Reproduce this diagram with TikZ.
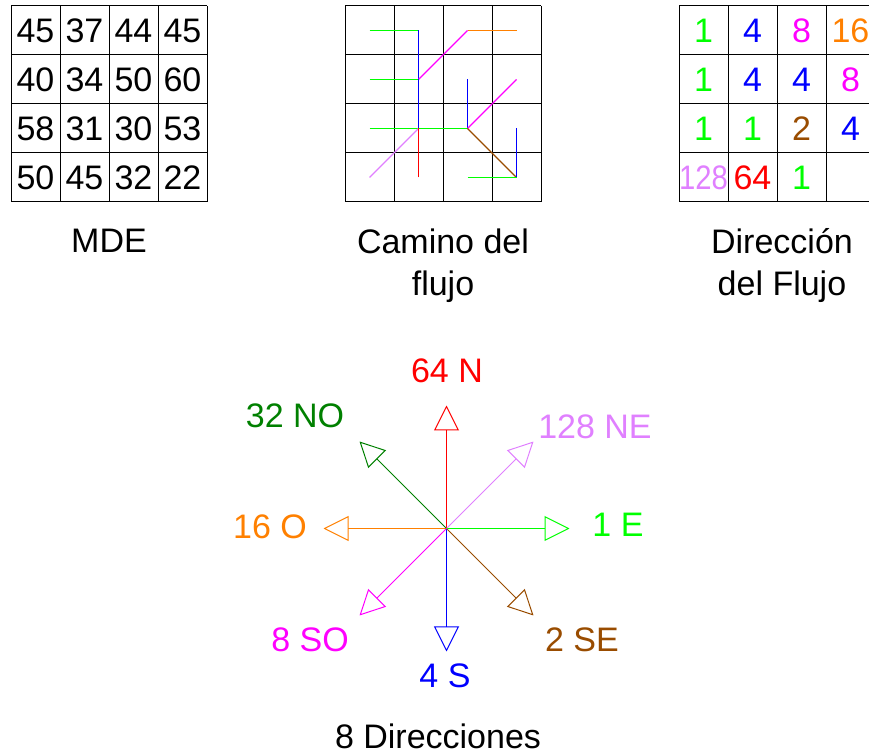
\documentclass[tikz,border=0pt]{standalone}
\usepackage{fontspec}
\setmainfont{Liberation Sans}
\usetikzlibrary{arrows.meta}

\definecolor{verde}{RGB}{0,255,0}
\definecolor{verdeos}{RGB}{0,128,0}
\definecolor{naranja}{RGB}{255,128,0}
\definecolor{cafe}{RGB}{153,76,0}
\definecolor{lila}{RGB}{224,128,255}
\definecolor{rosa}{RGB}{255,0,255}
\definecolor{azul}{RGB}{0,0,255}
\definecolor{rojo}{RGB}{255,0,0}

\begin{document}
\begin{tikzpicture}[x=0.5pt,y=-0.5pt,
  every node/.style={font=\fontsize{17pt}{21pt}\selectfont},
  num/.style={inner sep=0pt},
  lbl/.style={inner sep=0pt,anchor=base,align=center},
  rejilla/.style={line width=0.5pt},
  flow/.style={line width=0.6pt},
  dir/.style={line width=0.5pt,-{Triangle[open,length=12.5pt,width=12.5pt]}}]

\useasboundingbox (0,0) rectangle (869,754);
\clip (0,0) rectangle (869,754);

% tamano de celda
\def\s{49}

% --- MDE ---
\begin{scope}[shift={(11,6)}]
\foreach \i in {0,...,4} {
  \draw[rejilla] (\i*\s,0) -- (\i*\s,4*\s);
  \draw[rejilla] (0,\i*\s) -- (4*\s,\i*\s);
}

\foreach \r/\a/\b/\c/\d in {0/45/37/44/45,1/40/34/50/60,2/58/31/30/53,3/50/45/32/22} {
  \node[num] (m\r0) at (0.5*\s,\r*\s+0.5*\s) {\a};
  \node[num] (m\r1) at (1.5*\s,\r*\s+0.5*\s) {\b};
  \node[num] (m\r2) at (2.5*\s,\r*\s+0.5*\s) {\c};
  \node[num] (m\r3) at (3.5*\s,\r*\s+0.5*\s) {\d};
}

\node[lbl] (mde) at (2*\s,247) {MDE};
\end{scope}

% --- camino del flujo ---
\begin{scope}[shift={(345,6)}]
\foreach \i in {0,...,4} {
  \draw[rejilla] (\i*\s,0) -- (\i*\s,4*\s);
  \draw[rejilla] (0,\i*\s) -- (4*\s,\i*\s);
}

\foreach \r in {0,...,3}
  \foreach \c in {0,...,3}
    \coordinate (f\r\c) at (\c*\s+0.5*\s,\r*\s+0.5*\s);

\draw[flow,verde] (f00) -- (f01);
\draw[flow,azul] (f01) -- (f11);
\draw[flow,rosa] (f02) -- (f11);
\draw[flow,naranja] (f03) -- (f02);

\draw[flow,verde] (f10) -- (f11);
\draw[flow,azul] (f11) -- (f21);
\draw[flow,azul] (f12) -- (f22);
\draw[flow,rosa] (f13) -- (f22);

\draw[flow,verde] (f20) -- (f21);
\draw[flow,verde] (f21) -- (f22);
\draw[flow,cafe] (f22) -- (f33);
\draw[flow,azul] (f23) -- (f33);

\draw[flow,lila] (f30) -- (f21);
\draw[flow,rojo] (f31) -- (f21);
\draw[flow,verde] (f32) -- (f33);

\node[lbl] (camino) at (2*\s,290) {Camino del\\flujo};
\end{scope}

% --- direccion del flujo ---
\begin{scope}[shift={(679,6)}]
\foreach \i in {0,...,4} {
  \draw[rejilla] (\i*\s,0) -- (\i*\s,4*\s);
  \draw[rejilla] (0,\i*\s) -- (4*\s,\i*\s);
}

\foreach \r/\c/\v/\col in {0/0/1/verde,0/1/4/azul,0/2/8/rosa,0/3/16/naranja,
                          1/0/1/verde,1/1/4/azul,1/2/4/azul,1/3/8/rosa,
                          2/0/1/verde,2/1/1/verde,2/2/2/cafe,2/3/4/azul,
                          3/1/64/rojo,3/2/1/verde}
  \node[num,text=\col] (d\r\c) at (\c*\s+0.5*\s,\r*\s+0.5*\s) {\v};

\node[num,text=lila] (d30) at (0.5*\s,3.5*\s) {\scalebox{0.86}[1]{128}};

\node[lbl] (direccion) at (103,290) {Dirección\\del Flujo};
\end{scope}

% --- 8 direcciones ---
\coordinate (o) at (446.5,528.5);
\coordinate (pE) at (569.5,528.5);
\coordinate (pSE) at (533.5,615.5);
\coordinate (pS) at (446.5,651.5);
\coordinate (pSO) at (359.5,615.5);
\coordinate (pO) at (323.5,528.5);
\coordinate (pNO) at (359.5,441.5);
\coordinate (pN) at (446.5,405.5);
\coordinate (pNE) at (533.5,441.5);

\draw[dir,verde] (o) -- (pE);
\draw[dir,cafe] (o) -- (pSE);
\draw[dir,azul] (o) -- (pS);
\draw[dir,rosa] (o) -- (pSO);
\draw[dir,naranja] (o) -- (pO);
\draw[dir,verdeos] (o) -- (pNO);
\draw[dir,rojo] (o) -- (pN);
\draw[dir,lila] (o) -- (pNE);

\node[lbl,text=verde] (lE) at (618,537) {1 E};
\node[lbl,text=cafe] (lSE) at (582,652) {2 SE};
\node[lbl,text=azul] (lS) at (445,688) {4 S};
\node[lbl,text=rosa] (lSO) at (310,652) {8 SO};
\node[lbl,text=naranja] (lO) at (270,539) {16 O};
\node[lbl,text=verdeos] (lNO) at (295,428) {32 NO};
\node[lbl,text=rojo] (lN) at (447,383) {64 N};
\node[lbl,text=lila] (lNE) at (595,439) {128 NE};

\node[lbl] (ocho) at (438,748) {8 Direcciones};

\end{tikzpicture}
\end{document}
